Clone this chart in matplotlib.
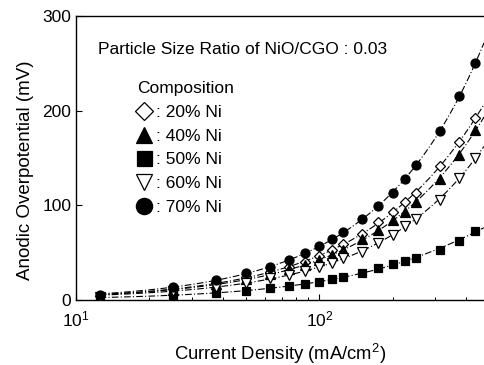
import numpy as np
import matplotlib
matplotlib.use("Agg")
import matplotlib.pyplot as plt
from matplotlib.ticker import LogLocator, NullFormatter

plt.rcParams['font.family'] = ['Liberation Sans', 'DejaVu Sans']
plt.rcParams['mathtext.fontset'] = 'custom'
plt.rcParams['mathtext.rm'] = 'Liberation Sans'
plt.rcParams['mathtext.it'] = 'Liberation Sans'

current = [12.5, 25, 37.5, 50, 62.5, 75, 87.5, 100, 112.5, 125, 150, 175,
           200, 225, 250, 312.5, 375, 437.5]
ni20 = [4.2, 12, 18, 24, 30, 35, 40.5, 46.5, 53, 59, 70, 82, 93, 103, 113, 141.5, 167, 192]
ni40 = [3.5, 11, 17, 22, 27.5, 33, 37, 42, 47.5, 53, 64, 74, 84.5, 93, 104, 128, 153, 180]
ni50 = [1.8, 5.3, 7, 10, 12.3, 15, 17, 19.4, 22, 24, 29, 33.5, 37.7, 41, 44.7, 53, 62.7, 73]
ni60 = [3.5, 9.5, 14, 18, 23, 26.4, 31, 35, 39.4, 44, 51, 60.5, 68.7, 78, 86, 106, 128.5, 150]
ni70 = [5.3, 14, 21, 28, 35, 42, 50, 57, 64, 71.5, 85.6, 99, 113, 128, 143, 178, 215, 250]

labels = [': 20% Ni', ': 40% Ni', ': 50% Ni', ': 60% Ni', ': 70% Ni']
series = [ni20, ni40, ni50, ni60, ni70]
markers = ['D', '^', 's', 'v', 'o']
fills = ['white', 'black', 'black', 'white', 'black']
msizes = [5.0, 6.5, 6.0, 6.5, 6.5]

x_max = 475
fig = plt.figure(figsize=(4.84, 3.65), dpi=100)
ax = fig.add_axes([76/484, 1-300/365, 1-76/484, (300-16)/365])

xs = np.array(current)
xfit = np.geomspace(current[0], x_max, 300)
handles = []
for ys, m, fc, ms, lab in zip(series, markers, fills, msizes, labels):
    coef = np.polyfit(xs, np.array(ys), 2)
    ax.plot(xfit, np.polyval(coef, xfit), color='black', lw=0.8,
            linestyle=(0, (6, 2, 1, 2)), zorder=2)
    h, = ax.plot(xs, ys, linestyle='none', marker=m, markersize=ms,
                 markerfacecolor=fc, markeredgecolor='black', markeredgewidth=0.9,
                 zorder=3, label=lab)
    handles.append(h)

ax.set_xscale('log')
ax.set_xlim(10, x_max)
ax.set_ylim(0, 300)
ax.set_yticks([0, 100, 200, 300])
ax.xaxis.set_major_locator(LogLocator(base=10, numticks=10))
ax.xaxis.set_minor_locator(LogLocator(base=10, subs=np.arange(2, 10), numticks=10))
ax.xaxis.set_minor_formatter(NullFormatter())
ax.tick_params(axis='both', which='major', direction='in', length=4, width=0.8,
               labelsize=12.5, colors='black')
ax.tick_params(axis='x', which='minor', direction='in', length=2.5, width=0.7)
ax.tick_params(axis='x', which='major', pad=7)
ax.spines['right'].set_visible(False)
for s in ['left', 'bottom', 'top']:
    ax.spines[s].set_linewidth(1.0)

ax.set_xlabel('Current Density (mA/cm$^2$)', fontsize=13.3, labelpad=9)
ax.set_ylabel('Anodic Overpotential (mV)', fontsize=13.5)
ax.yaxis.set_label_coords((34-76)/408, (300-170)/284)

ax.text((98-76)/(484-76), (300-50)/284, 'Particle Size Ratio of NiO/CGO : 0.03',
        transform=ax.transAxes, fontsize=12.5, va='center', ha='left')

leg = ax.legend(handles=handles, title='Composition', loc='upper left',
                bbox_to_anchor=((137-76)/(484-76), (300-81)/284),
                frameon=False, fontsize=12.5, title_fontsize=12.5, markerscale=1.8,
                handlelength=0.8, handletextpad=0.3, labelspacing=0.5,
                borderaxespad=0, borderpad=0, alignment='left')

fig.savefig('out.png', dpi=100)
